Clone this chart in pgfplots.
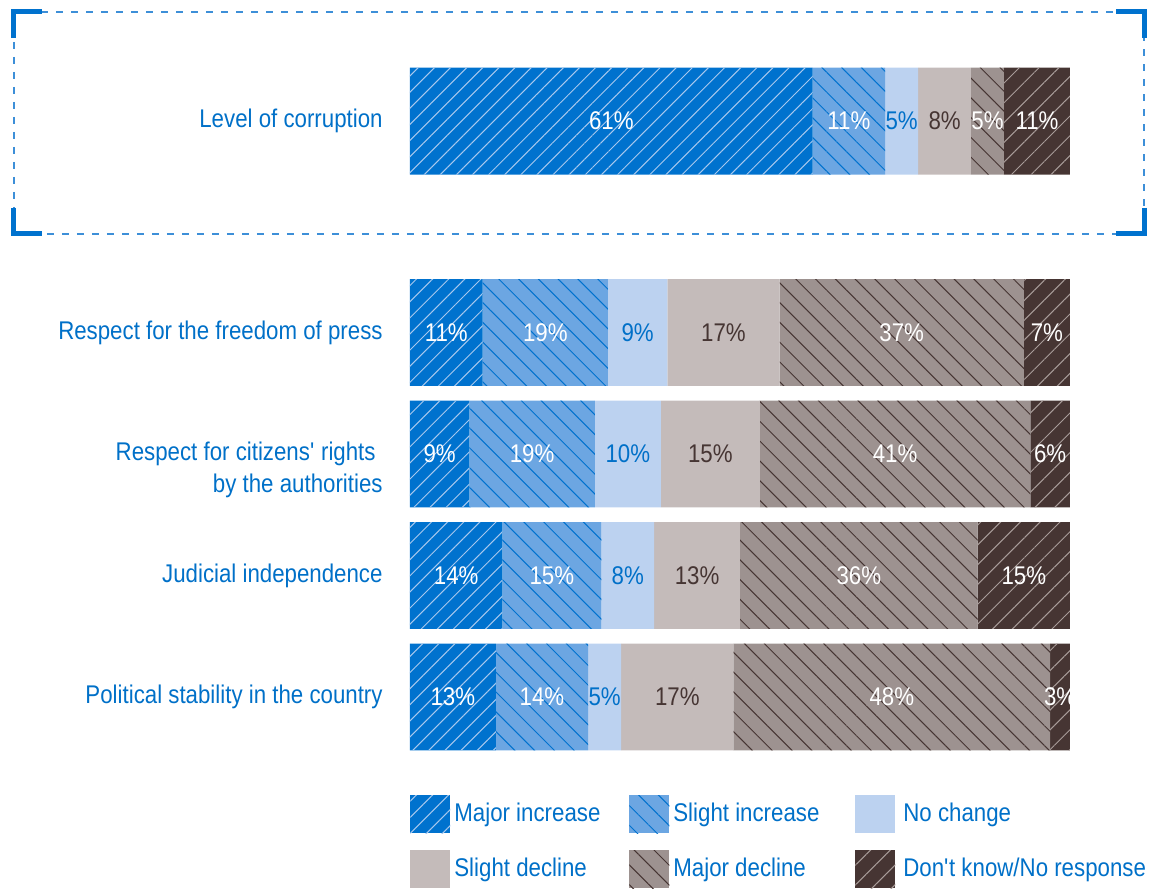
\documentclass[border=0pt]{standalone}
\usepackage{fontspec}
\setmainfont{Liberation Sans}[FakeStretch=0.87]
\usepackage{pgfplots}
\pgfplotsset{compat=1.18}
\usepackage{pgfplotstable}
\usetikzlibrary{patterns.meta,calc}

\definecolor{MI}{HTML}{0072CE}
\definecolor{SI}{HTML}{6CA6E2}
\definecolor{NC}{HTML}{BCD2F0}
\definecolor{SD}{HTML}{C4BBBA}
\definecolor{MD}{HTML}{9D9290}
\definecolor{DK}{HTML}{463533}
\definecolor{TBlue}{HTML}{0070C8}
\definecolor{FrameBlue}{HTML}{3D8FD8}
\definecolor{DKline}{HTML}{A89C99}
\definecolor{MIline}{HTML}{A8C8EE}

\newcommand\lblfont{\fontsize{12.8}{16}\selectfont}

\pgfplotstableread{
y     MI  SI  NC  SD  MD  DK
4.74  61  11  5   8   5   11
3     11  19  9   17  37  7
2     9   19  10  15  41  6
1     14  15  8   13  36  15
0     13  14  5   17  48  3
}\data

% label centres (x = middle of each segment)
\pgfplotstableread{
x     y     l
30.5  4.74  61
66.5  4.74  11
87.5  4.74  5
95    4.74  11
5.5   3     11
20.5  3     19
74.5  3     37
96.5  3     7
4.5   2     9
18.5  2     19
73.5  2     41
97    2     6
7     1     14
21.5  1     15
68    1     36
93    1     15
6.5   0     13
20    0     14
73    0     48
98.5  0     3
}\whitelbl
\pgfplotstableread{
x     y     l
74.5  4.74  5
34.5  3     9
33    2     10
33    1     8
29.5  0     5
}\bluelbl
\pgfplotstableread{
x     y     l
81    4.74  8
47.5  3     17
45.5  2     15
43.5  1     13
40.5  0     17
}\brownlbl

\pgfplotsset{base/.style={scale only axis, width=330pt, height=352.375pt,
  xmin=0, xmax=100, ymin=-0.5, ymax=5.3}}

\begin{document}
\begin{tikzpicture}
\begin{axis}[base, name=ax,
  xbar stacked, bar width=0.88,
  axis line style={draw=none}, xtick=\empty, major tick length=0pt,
  ytick={0,1,1.87,3,4.74},
  yticklabels={Political stability in the country, Judicial independence,
    {Respect for citizens\textquotesingle\ rights\hspace*{3.5pt}\\by the authorities},
    Respect for the freedom of press, Level of corruption},
  yticklabel style={align=right, text=TBlue, font=\lblfont, inner sep=0pt, xshift=-13.5pt},
  every axis plot post/.append style={draw=none,
    legend image code/.code={\fill[##1] (0pt,-9.5pt) rectangle (20pt,9.5pt);}},
  legend columns=3,
  legend style={at={(0,0)}, anchor=north west, yshift=-18.5pt, draw=none, fill=none,
    inner sep=0pt, row sep=8.5pt, column sep=0pt, font=\lblfont, text=TBlue},
  legend cell align=left,
]
\addplot[fill=MI, postaction={pattern={Lines[angle=45,distance=5.7pt,line width=0.5pt]}, pattern color=MIline}]
  table[x=MI,y=y]{\data};
\addlegendentry{\makebox[85.5pt][l]{Major increase}}
\addplot[fill=SI, postaction={pattern={Lines[angle=-45,distance=7pt,line width=0.5pt]}, pattern color=MI}]
  table[x=SI,y=y]{\data};
\addlegendentry{\makebox[89pt][l]{Slight increase}}
\addplot[fill=NC] table[x=NC,y=y]{\data};
\addlegendentry{\hspace*{2pt}No change}
\addplot[fill=SD] table[x=SD,y=y]{\data};
\addlegendentry{\makebox[85.5pt][l]{Slight decline}}
\addplot[fill=MD, postaction={pattern={Lines[angle=-45,distance=7pt,line width=0.5pt]}, pattern color=DK}]
  table[x=MD,y=y]{\data};
\addlegendentry{\makebox[89pt][l]{Major decline}}
\addplot[fill=DK, postaction={pattern={Lines[angle=45,distance=7pt,line width=0.5pt]}, pattern color=DKline}]
  table[x=DK,y=y]{\data};
\addlegendentry{\hspace*{2pt}Don\textquotesingle t know/No response}
\end{axis}

\begin{axis}[base, hide axis, clip=false,
  nodes near coords={\pgfplotspointmeta\%},
  point meta=explicit symbolic,
  nodes near coords style={anchor=center, font=\lblfont, inner sep=0pt},
]
\addplot[draw=none, mark=none, nodes near coords style={text=white}]
  table[x=x,y=y,meta=l]{\whitelbl};
\addplot[draw=none, mark=none, nodes near coords style={text=TBlue}]
  table[x=x,y=y,meta=l]{\bluelbl};
\addplot[draw=none, mark=none, nodes near coords style={text=DK}]
  table[x=x,y=y,meta=l]{\brownlbl};
\end{axis}

\begin{scope}[shift={($(ax.south west)+(-205pt,378.875pt)$)}, x=0.5pt, y=-0.5pt]
  \draw[FrameBlue, line width=0.6pt, dash pattern=on 3.5pt off 4pt]
    (14,12) rectangle (1144,234);
  \draw[MI, line width=2.5pt] (14,38) -- (14,12) -- (42,12);
  \draw[MI, line width=2.5pt] (14,208) -- (14,234) -- (42,234);
  \draw[MI, line width=2.5pt] (1144,38) -- (1144,12) -- (1116,12);
  \draw[MI, line width=2.5pt] (1144,208) -- (1144,234) -- (1116,234);
  \pgfresetboundingbox
  \path[use as bounding box] (0,0) rectangle (1152,889);
\end{scope}
\end{tikzpicture}
\end{document}
